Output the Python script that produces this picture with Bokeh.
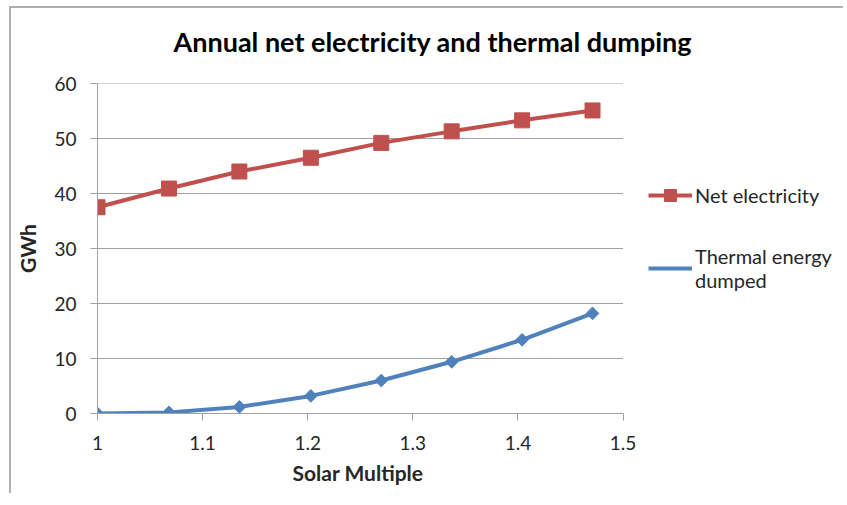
import math
from bokeh.plotting import figure
from bokeh.models import Legend, LegendItem, Range1d, FixedTicker, Title
from bokeh.embed import file_html
from bokeh.resources import INLINE

solar_multiple = [1.0, 1.068, 1.135, 1.203, 1.270, 1.337, 1.404, 1.471]
net_electricity = [37.5, 40.9, 44.0, 46.5, 49.2, 51.3, 53.3, 55.1]
thermal_dumped = [0.0, 0.2, 1.2, 3.2, 6.0, 9.4, 13.4, 18.2]
x_ticks = [1.0, 1.1, 1.2, 1.3, 1.4, 1.5]
y_ticks = [0, 10, 20, 30, 40, 50, 60]
x_lo, x_hi = 1.0, 1.5
y_lo, y_hi = 0, 60

RED = "#C0504D"
BLUE = "#4F81BD"
GRID = "#A0A0A0"
FONT = "Lato"
TXT = "#262626"

W, H = 834, 487
BL, BR, BT, BB = 86, 0, 75, 82
axis_px = 525.5                      # pixels between x = 1.0 and x = 1.5
frame_w = W - BL - BR
x_end = x_lo + (x_hi - x_lo) * frame_w / axis_px   # frame extends right to hold the legend

p = figure(width=W, height=H, output_backend="svg", toolbar_location=None,
           x_range=Range1d(x_lo, x_end), y_range=Range1d(y_lo, y_hi),
           min_border_left=BL, min_border_right=BR, min_border_top=BT, min_border_bottom=BB)
p.styles = {"margin-left": "9px", "margin-top": "6px",
            "border-top": "2px solid #B0B0B0", "border-left": "2px solid #B0B0B0"}

# invisible spacer between frame and title
spacer = Title(text=" ", text_font_size="2px", standoff=17)
p.add_layout(spacer, "above")
t = Title(text="Annual net electricity and thermal dumping", align="left", offset=76,
          text_font=FONT, text_font_size="27px", text_font_style="bold",
          text_color="black", standoff=10)
p.add_layout(t, "above")

xlab = Title(text="Solar Multiple", align="left", offset=195,
             text_font=FONT, text_font_size="21px", text_font_style="bold",
             text_color=TXT, standoff=11)
p.add_layout(xlab, "below")

p.outline_line_color = None
p.background_fill_color = "white"
p.border_fill_color = "white"

p.xgrid.grid_line_color = None
p.ygrid.grid_line_color = None
# horizontal gridlines spanning only the x-axis extent
p.segment(x0=[x_lo] * len(y_ticks), x1=[x_hi] * len(y_ticks), y0=y_ticks, y1=y_ticks,
          line_color=GRID, line_width=1)

for ax in (p.xaxis[0], p.yaxis[0]):
    ax.axis_line_color = GRID
    ax.major_tick_line_color = GRID
    ax.minor_tick_line_color = None
    ax.major_tick_in = 0
    ax.major_tick_out = 7
    ax.major_label_text_font = FONT
    ax.major_label_text_font_size = "19px"
    ax.major_label_text_color = TXT
    ax.axis_label_text_font = FONT
    ax.axis_label_text_font_size = "21px"
    ax.axis_label_text_font_style = "bold"
    ax.axis_label_text_color = TXT

p.xaxis.bounds = (x_lo, x_hi)
p.xaxis.ticker = FixedTicker(ticks=x_ticks)
p.yaxis.ticker = FixedTicker(ticks=y_ticks)
p.xaxis.major_label_overrides = {1.0: "1", 1.1: "1.1", 1.2: "1.2", 1.3: "1.3", 1.4: "1.4", 1.5: "1.5"}
p.yaxis.axis_label = "GWh"
p.xaxis.major_label_standoff = 15
p.yaxis.major_label_standoff = 14
p.yaxis.axis_label_standoff = 11

l1 = p.line(solar_multiple, net_electricity, line_color=RED, line_width=4)
m1 = p.scatter(solar_multiple, net_electricity, marker="square", size=15,
               fill_color=RED, line_color=RED)
l2 = p.line(solar_multiple, thermal_dumped, line_color=BLUE, line_width=4)
m2 = p.scatter(solar_multiple, thermal_dumped, marker="square", size=9, angle=math.pi / 4,
               fill_color=BLUE, line_color=BLUE)
# legend-only marker (diamond shape for the legend swatch)
m2_key = p.scatter(x=[], y=[], marker="diamond", size=12, fill_color=BLUE, line_color=BLUE)

legend = Legend(items=[LegendItem(label="Net electricity", renderers=[l1, m1]),
                       LegendItem(label="Thermal energy\ndumped", renderers=[l2, m2_key])],
                location=(551, 121))
legend.glyph_width = 44
legend.glyph_height = 30
legend.label_standoff = 3
legend.spacing = 34
legend.padding = 0
legend.margin = 0
legend.border_line_color = None
legend.background_fill_alpha = 0
legend.label_text_font = FONT
legend.label_text_font_size = "20px"
legend.label_text_color = TXT
p.add_layout(legend, "center")

open("out.html", "w").write(file_html(p, INLINE))
